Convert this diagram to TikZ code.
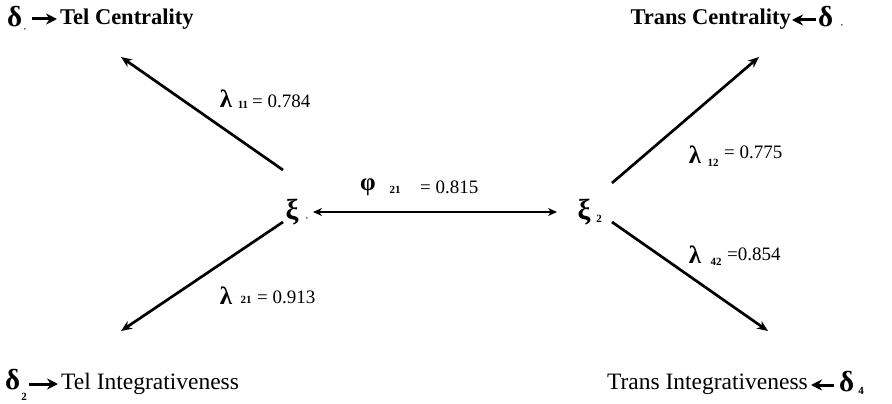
\documentclass[tikz,border=0pt]{standalone}
\usepackage{fontspec}
\setmainfont{Liberation Serif}
\usetikzlibrary{arrows.meta}
\tikzset{
  conn/.style={line width=2.7pt,-{Stealth[length=11pt,width=9pt]}},
  sconn/.style={line width=3pt,-{Stealth[length=11pt,width=11pt]}},
  dconn/.style={line width=2.5pt,{Stealth[length=9pt,width=8pt]}-{Stealth[length=9pt,width=8pt]}},
  tb/.style={inner sep=0pt,font=\fontsize{22.5}{22.5}\selectfont\bfseries},
  tr/.style={inner sep=0pt,font=\fontsize{23.5}{23.5}\selectfont},
  gk/.style={inner sep=0pt,font=\fontsize{29}{29}\selectfont\bfseries},
  lam/.style={inner sep=0pt,font=\fontsize{25}{25}\selectfont\bfseries},
  sub/.style={inner sep=0pt,font=\fontsize{11}{11}\selectfont\bfseries},
  val/.style={inner sep=0pt,font=\fontsize{19}{19}\selectfont},
}
\begin{document}
\begin{tikzpicture}[x=1pt,y=-1pt]
\useasboundingbox (0,0) rectangle (892,404);
% top-left
\node[gk,anchor=west] (d1) at (7,17) {δ};
\node[sub] (d1s) at (25,30) {\scriptsize ,};
\node[tb,anchor=west] (tc) at (60,19) {Tel Centrality};
\coordinate (d1a) at (32,19);
\coordinate (d1b) at (57,19);
\draw[sconn] (d1a) -- (d1b);
% top-right
\node[tb,anchor=east] (trc) at (791,19) {Trans Centrality};
\node[gk,anchor=west] (d3) at (818,17) {δ};
\node[sub] (d3s) at (842,26) {\scriptsize ,};
\coordinate (d3a) at (816,20);
\coordinate (d3b) at (792,20);
\draw[sconn] (d3a) -- (d3b);
% bottom-left
\node[gk,anchor=west] (d2) at (5,380) {δ};
\node[sub] (d2s) at (24,397) {2};
\node[tr,anchor=west] (ti) at (61,384) {Tel Integrativeness};
\coordinate (d2a) at (29,384);
\coordinate (d2b) at (58,384);
\draw[sconn] (d2a) -- (d2b);
% bottom-right
\node[tr,anchor=east] (tri) at (808,384) {Trans Integrativeness};
\node[gk,anchor=west] (d4) at (839,382) {δ};
\node[sub] (d4s) at (861,391) {4};
\coordinate (d4a) at (834,385);
\coordinate (d4b) at (811,385);
\draw[sconn] (d4a) -- (d4b);
% latent variables
\node[gk] (x1) at (292,212) {ξ};
\node[sub] (x1s) at (307,219) {\scriptsize ,};
\node[gk] (x2) at (584,212) {ξ};
\node[sub] (x2s) at (599,219) {2};
% end points
\coordinate (tcE) at (121,57);
\coordinate (tiE) at (121,331);
\coordinate (trcE) at (759,57);
\coordinate (triE) at (768,331);
\coordinate (x1ul) at (283,170);
\coordinate (x1ll) at (283,222);
\coordinate (x2ur) at (612,183);
\coordinate (x2lr) at (612,222);
\coordinate (x1r) at (313,212);
\coordinate (x2l) at (557,212);
\draw[conn] (x1ul) -- (tcE);
\draw[conn] (x1ll) -- (tiE);
\draw[conn] (x2ur) -- (trcE);
\draw[conn] (x2lr) -- (triE);
\draw[dconn] (x1r) -- (x2l);
% labels
\node[lam] (l11) at (226,99) {λ};
\node[sub] (l11s) at (243,105) {11};
\node[val,anchor=west] (v11) at (252,101) {= 0.784};
\node[lam] (l21) at (226,296) {λ};
\node[sub] (l21s) at (246,300) {21};
\node[val,anchor=west] (v21) at (257,297) {= 0.913};
\node[lam] (f21) at (368,187) {φ};
\node[sub] (f21s) at (395,190) {21};
\node[val,anchor=west] (v21f) at (420,187) {= 0.815};
\node[lam] (l12) at (695,155) {λ};
\node[sub] (l12s) at (713,163) {12};
\node[val,anchor=west] (v12) at (724,152) {= 0.775};
\node[lam] (l42) at (695,255) {λ};
\node[sub] (l42s) at (716,262) {42};
\node[val,anchor=west] (v42) at (727,254) {=0.854};
\end{tikzpicture}
\end{document}
